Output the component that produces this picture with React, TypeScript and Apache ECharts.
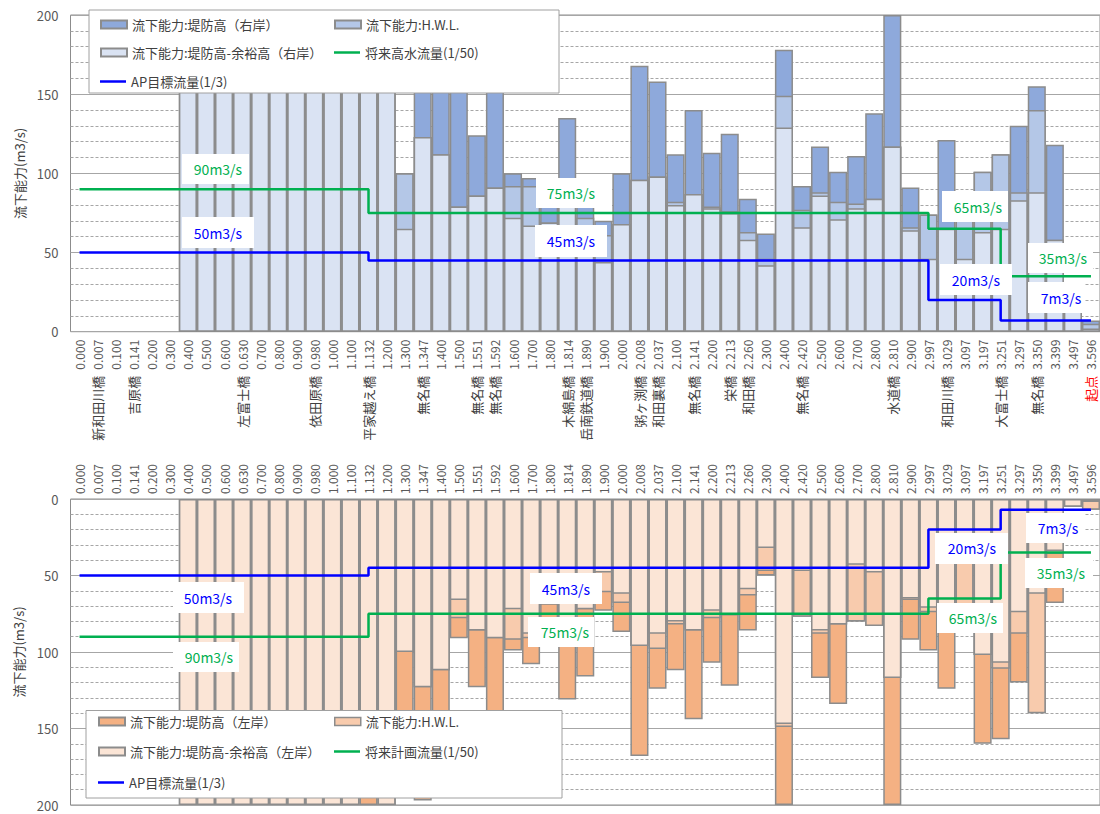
import React, { useEffect, useRef } from 'react';
import * as echarts from 'echarts';

const FONT = "'Noto Sans CJK JP', 'Noto Sans', sans-serif";

const stations = ['0.000','0.007','0.100','0.141','0.200','0.300','0.400','0.500','0.600','0.630',
  '0.700','0.800','0.900','0.980','1.000','1.100','1.132','1.200','1.300','1.347',
  '1.400','1.500','1.551','1.592','1.600','1.700','1.800','1.814','1.890','1.900',
  '2.000','2.008','2.037','2.100','2.141','2.200','2.213','2.260','2.300','2.400',
  '2.420','2.500','2.600','2.700','2.800','2.810','2.900','2.997','3.029','3.097',
  '3.197','3.251','3.297','3.350','3.399','3.497','3.596'];

const bridges = ['','新和田川橋','','吉原橋','','','','','','左富士橋',
  '','','','依田原橋','','','平家越え橋','','','無名橋',
  '','','無名橋','無名橋','','','','木綿島橋','岳南鉄道橋','',
  '','粥ヶ渕橋','和田裏橋','','無名橋','','栄橋','和田橋','','',
  '無名橋','','','','','水道橋','','','和田川橋','',
  '','大富士橋','','無名橋','','','起点'];

// 右岸 (top chart)
const rightDike = [null,null,null,null,null,null,200,200,200,200,
  200,200,200,200,200,200,200,200,100,180,
  180,180,124,180,100,97,85,135,80,70,
  100,168,158,112,140,113,125,84,62,178,
  92,117,101,111,138,200,91,74,121,78,
  101,112,130,155,118,30,7];
const rightHwl = [null,null,null,null,null,null,200,200,200,200,
  200,200,200,200,200,200,200,200,100,123,
  112,79,86,91,92,92,69,80,72,61,
  68,96,98,82,87,79,76,63,46,149,
  77,88,82,81,84,117,66,74,65,78,
  101,112,88,140,58,30,5];
const rightFree = [null,null,null,null,null,null,200,200,200,200,
  200,200,200,200,200,200,200,200,65,123,
  112,79,86,91,72,67,69,80,60,44,
  68,96,98,80,87,78,75,58,42,129,
  66,86,71,78,84,117,64,46,65,46,
  63,65,83,88,58,30,2];

// 左岸 (bottom chart)
const leftDike = [null,null,null,null,null,null,200,200,200,200,
  200,200,200,200,200,200,200,200,145,197,
  150,91,123,150,99,108,85,131,116,73,
  87,168,124,112,144,107,122,86,50,200,
  77,117,134,80,83,200,92,99,124,75,
  160,157,120,140,68,5,7];
const leftHwl = [null,null,null,null,null,null,200,200,200,200,
  200,200,200,200,200,200,150,200,100,123,
  112,78,86,91,92,91,69,80,72,61,
  68,96,98,82,86,78,76,63,47,149,
  77,88,82,80,83,117,66,74,70,75,
  102,111,88,140,36,5,7];
const leftFree = [null,null,null,null,null,null,200,200,200,200,
  200,200,200,200,200,200,150,200,100,123,
  112,66,86,91,72,88,69,80,72,48,
  62,96,88,80,86,73,76,59,32,147,
  47,86,82,43,48,117,65,71,70,35,
  102,107,74,62,34,5,2];

// 将来高水流量 / 将来計画流量 (1/50)
const planFlow = [90,90,90,90,90,90,90,90,90,90,
  90,90,90,90,90,90,75,75,75,75,
  75,75,75,75,75,75,75,75,75,75,
  75,75,75,75,75,75,75,75,75,75,
  75,75,75,75,75,75,75,65,65,65,
  65,35,35,35,35,35,35];
// AP目標流量 (1/3)
const apFlow = [50,50,50,50,50,50,50,50,50,50,
  50,50,50,50,50,50,45,45,45,45,
  45,45,45,45,45,45,45,45,45,45,
  45,45,45,45,45,45,45,45,45,45,
  45,45,45,45,45,45,45,20,20,20,
  20,7,7,7,7,7,7];

const yTicks = [0, 50, 100, 150, 200];

const N_RD = '流下能力:堤防高（右岸）';
const N_HWL = '流下能力:H.W.L.';
const N_RF = '流下能力:堤防高-余裕高（右岸）';
const N_PR = '将来高水流量(1/50)';
const N_AP = 'AP目標流量(1/3)';
const N_LD = '流下能力:堤防高（左岸）';
const N_LF = '流下能力:堤防高-余裕高（左岸）';
const N_PL = '将来計画流量(1/50)';

const GREEN = '#00B050';
const BLUE = '#0000FF';
const BORDER = '#8C8C8C';

const flowLabels = [
  { text: '90m3/s', color: GREEN, box: [182, 154, 67, 30], pos: [218, 169] },
  { text: '50m3/s', color: BLUE, box: [182, 217, 72, 31], pos: [218, 233] },
  { text: '75m3/s', color: GREEN, box: [536, 178, 76, 30], pos: [571, 193] },
  { text: '45m3/s', color: BLUE, box: [535, 225, 72, 32], pos: [571, 241] },
  { text: '65m3/s', color: GREEN, box: [942, 191, 66, 31], pos: [978, 207] },
  { text: '20m3/s', color: BLUE, box: [940, 264, 72, 31], pos: [976, 280] },
  { text: '35m3/s', color: GREEN, box: [1028, 243, 65, 30], pos: [1063, 258] },
  { text: '7m3/s', color: BLUE, box: [1028, 282, 56, 31], pos: [1061, 298] },
  { text: '50m3/s', color: BLUE, box: [173, 582, 71, 31], pos: [208, 598] },
  { text: '90m3/s', color: GREEN, box: [173, 642, 66, 30], pos: [209, 657] },
  { text: '45m3/s', color: BLUE, box: [530, 573, 72, 31], pos: [566, 589] },
  { text: '75m3/s', color: GREEN, box: [528, 617, 66, 30], pos: [565, 632] },
  { text: '20m3/s', color: BLUE, box: [935, 533, 73, 31], pos: [972, 548] },
  { text: '65m3/s', color: GREEN, box: [937, 603, 66, 30], pos: [973, 618] },
  { text: '7m3/s', color: BLUE, box: [1026, 513, 58, 30], pos: [1058, 528] },
  { text: '35m3/s', color: GREEN, box: [1025, 558, 68, 30], pos: [1061, 573] },
];

function barSeries(name: string, data: any[], color: string, xi: number, yi: number) {
  return {
    type: 'bar', name, data, xAxisIndex: xi, yAxisIndex: yi,
    barGap: '-100%', barCategoryGap: '0%',
    itemStyle: { color, borderColor: BORDER, borderWidth: 1.5 },
    z: 2, silent: true,
  };
}
function lineSeries(name: string, data: number[], color: string, xi: number, yi: number) {
  return {
    type: 'line', name, data, xAxisIndex: xi, yAxisIndex: yi,
    step: 'end', symbol: 'none', showSymbol: false,
    lineStyle: { color, width: 2.5 }, itemStyle: { color },
    z: 3, silent: true,
  };
}

function yAxis(gridIndex: number, inverse: boolean, nameGap: number) {
  return {
    type: 'value', gridIndex, inverse, min: yTicks[0], max: yTicks[yTicks.length - 1], interval: 50,
    axisLine: { show: false }, axisTick: { show: false },
    axisLabel: { fontSize: 13, color: '#595959', fontFamily: FONT, margin: 12 },
    splitLine: { show: true, lineStyle: { color: '#A6A6A6', width: 1 } },
    minorTick: { show: false, splitNumber: 5 },
    minorSplitLine: { show: true, lineStyle: { color: '#A6A6A6', width: 1, type: [3, 2] } },
    name: '流下能力(m3/s)', nameLocation: 'middle', nameRotate: 90, nameGap,
    nameTextStyle: { fontSize: 13, color: '#404040', fontFamily: FONT },
  };
}

const legendBase = {
  padding: 0, itemWidth: 26, itemHeight: 8, selectedMode: false, z: 20, icon: 'rect',
  textStyle: { fontSize: 13, color: '#404040', fontFamily: FONT },
};
const lineLegend = { ...legendBase, itemHeight: 2.5 };

export default function App() {
  const ref = useRef<HTMLDivElement>(null);
  useEffect(() => {
    if (!ref.current) return;
    const chart = echarts.init(ref.current, null, { renderer: 'svg' });
    const graphics: any[] = [
      { type: 'rect', shape: { x: 89, y: 10, width: 470, height: 83 }, style: { fill: '#fff', stroke: '#A0A0A0', lineWidth: 1 }, z: 10, silent: true },
      { type: 'rect', shape: { x: 86, y: 710.5, width: 476, height: 87.5 }, style: { fill: '#fff', stroke: '#A0A0A0', lineWidth: 1 }, z: 10, silent: true },
    ];
    flowLabels.forEach((l) => {
      graphics.push({ type: 'rect', shape: { x: l.box[0], y: l.box[1], width: l.box[2], height: l.box[3] }, style: { fill: '#fff' }, z: 30, silent: true });
      graphics.push({ type: 'text', x: l.pos[0], y: l.pos[1], style: { text: l.text, fill: l.color, fontSize: 14, fontFamily: FONT, align: 'center', verticalAlign: 'middle' }, z: 31, silent: true });
    });
    const option: any = {
      animation: false,
      backgroundColor: '#fff',
      grid: [
        { left: 70.5, top: 15, width: 1029.5, height: 316.7, show: true, borderColor: BORDER, borderWidth: 1 },
        { left: 70.5, top: 499, width: 1029.5, height: 306, show: true, borderColor: BORDER, borderWidth: 1 },
      ],
      xAxis: [
        {
          type: 'category', gridIndex: 0, position: 'bottom', data: stations,
          axisLine: { show: false }, axisTick: { show: false }, splitLine: { show: false },
          axisLabel: { interval: 0, rotate: 90, margin: 8, fontSize: 12, color: '#595959', fontFamily: FONT },
        },
        {
          type: 'category', gridIndex: 0, position: 'bottom', offset: 36, data: bridges,
          axisLine: { show: false }, axisTick: { show: false }, splitLine: { show: false },
          axisLabel: {
            interval: 0, rotate: 90, margin: 8, fontSize: 13, fontFamily: FONT,
            color: (v: string) => (v === '起点' ? '#FF0000' : '#404040'),
          },
        },
        {
          type: 'category', gridIndex: 1, position: 'top', data: stations,
          axisLine: { show: false }, axisTick: { show: false }, splitLine: { show: false },
          axisLabel: { interval: 0, rotate: 90, margin: 5, fontSize: 12, color: '#595959', fontFamily: FONT },
        },
      ],
      yAxis: [yAxis(0, false, 44), yAxis(1, true, 46)],
      legend: [
        { ...legendBase, left: 100, top: 18, data: [N_RD] },
        { ...legendBase, left: 334, top: 18, data: [N_HWL] },
        { ...legendBase, left: 100, top: 46, data: [N_RF] },
        { ...lineLegend, left: 334, top: 46, data: [N_PR] },
        { ...lineLegend, left: 100, top: 75, data: [N_AP] },
        { ...legendBase, left: 98, top: 715, data: [N_LD] },
        { ...legendBase, left: 334, top: 715, data: [{ name: N_HWL, itemStyle: { color: '#F8CBAD', borderColor: BORDER, borderWidth: 1.5 } }] },
        { ...legendBase, left: 98, top: 745, data: [N_LF] },
        { ...lineLegend, left: 334, top: 745, data: [N_PL] },
        { ...lineLegend, left: 98, top: 776, data: [N_AP] },
      ],
      series: [
        barSeries(N_RD, rightDike, '#8EA9DB', 0, 0),
        barSeries(N_HWL, rightHwl, '#B4C7E7', 0, 0),
        barSeries(N_RF, rightFree, '#DAE3F3', 0, 0),
        lineSeries(N_PR, planFlow, GREEN, 0, 0),
        lineSeries(N_AP, apFlow, BLUE, 0, 0),
        barSeries(N_LD, leftDike, '#F4B183', 2, 1),
        barSeries(N_HWL, leftHwl, '#F8CBAD', 2, 1),
        barSeries(N_LF, leftFree, '#FBE5D6', 2, 1),
        lineSeries(N_PL, planFlow, GREEN, 2, 1),
        lineSeries(N_AP, apFlow, BLUE, 2, 1),
      ],
      graphic: graphics,
    };
    chart.setOption(option);
    return () => chart.dispose();
  }, []);
  return <div ref={ref} style={{ position: 'absolute', left: 0, top: 0, width: 1100, height: 814 }} />;
}
